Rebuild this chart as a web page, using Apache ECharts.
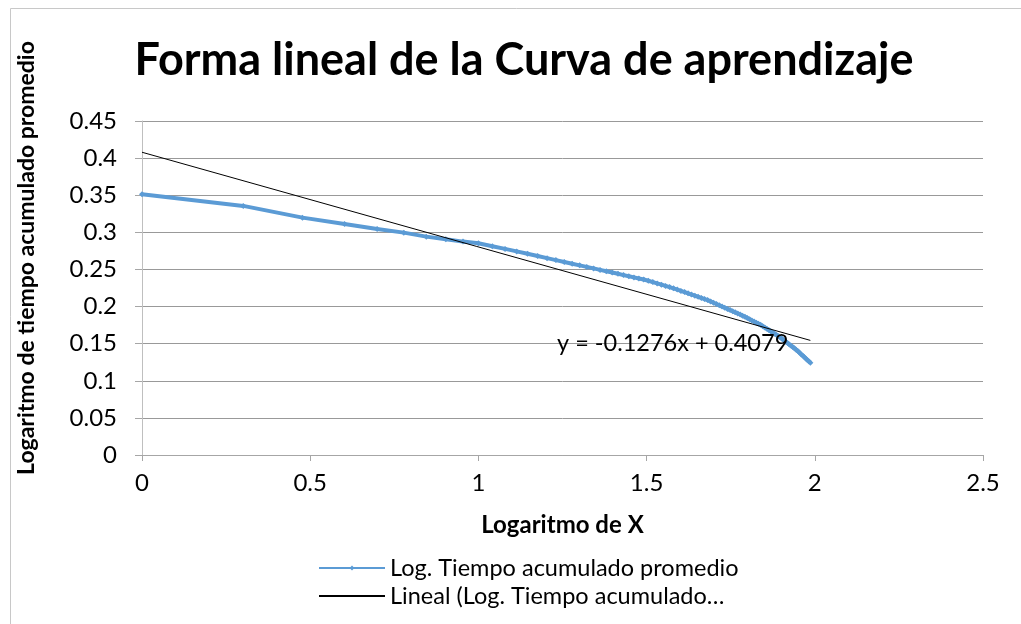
<!DOCTYPE html>
<html><head><meta charset="utf-8">
<script src="https://cdn.jsdelivr.net/npm/echarts@6.0.0/dist/echarts.min.js"></script>
<style>html,body{margin:0;padding:0;background:#fff}#c{width:1021px;height:624px}</style>
</head><body><div id="c"></div>
<script>
// Logaritmo de X (log10 of unit number 1..97)
const logX = [0, 0.301, 0.4771, 0.6021, 0.699, 0.7782, 0.8451, 0.9031, 0.9542, 1.0,
  1.0414, 1.0792, 1.1139, 1.1461, 1.1761, 1.2041, 1.2304, 1.2553, 1.2788, 1.301,
  1.3222, 1.3424, 1.3617, 1.3802, 1.3979, 1.415, 1.4314, 1.4472, 1.4624, 1.4771,
  1.4914, 1.5051, 1.5185, 1.5315, 1.5441, 1.5563, 1.5682, 1.5798, 1.5911, 1.6021,
  1.6128, 1.6232, 1.6335, 1.6435, 1.6532, 1.6628, 1.6721, 1.6812, 1.6902, 1.699,
  1.7076, 1.716, 1.7243, 1.7324, 1.7404, 1.7482, 1.7559, 1.7634, 1.7709, 1.7782,
  1.7853, 1.7924, 1.7993, 1.8062, 1.8129, 1.8195, 1.8261, 1.8325, 1.8388, 1.8451,
  1.8513, 1.8573, 1.8633, 1.8692, 1.8751, 1.8808, 1.8865, 1.8921, 1.8976, 1.9031,
  1.9085, 1.9138, 1.9191, 1.9243, 1.9294, 1.9345, 1.9395, 1.9445, 1.9494, 1.9542,
  1.959, 1.9638, 1.9685, 1.9731, 1.9777, 1.9823, 1.9868];
// Log. Tiempo acumulado promedio
const logT = [0.3513, 0.3356, 0.3198, 0.3113, 0.3046, 0.2996, 0.2942, 0.2907, 0.2875, 0.2853,
  0.2813, 0.2777, 0.2743, 0.2711, 0.2681, 0.2652, 0.2626, 0.2601, 0.2577, 0.2555,
  0.2534, 0.2514, 0.2494, 0.2476, 0.2458, 0.2441, 0.2424, 0.2408, 0.2393, 0.2378,
  0.2364, 0.2348, 0.2330, 0.2312, 0.2295, 0.2278, 0.2262, 0.2246, 0.2229, 0.2211,
  0.2195, 0.2178, 0.2162, 0.2146, 0.2131, 0.2116, 0.2101, 0.2087, 0.2069, 0.2051,
  0.2034, 0.2017, 0.2000, 0.1984, 0.1968, 0.1953, 0.1937, 0.1922, 0.1907, 0.1893,
  0.1877, 0.1861, 0.1845, 0.1829, 0.1813, 0.1798, 0.1783, 0.1768, 0.1754, 0.1736,
  0.1718, 0.1701, 0.1684, 0.1667, 0.1650, 0.1633, 0.1617, 0.1600, 0.1583, 0.1564,
  0.1545, 0.1527, 0.1508, 0.1490, 0.1472, 0.1454, 0.1437, 0.1419, 0.1400, 0.1380,
  0.1359, 0.1339, 0.1320, 0.1300, 0.1281, 0.1262, 0.1243];
// Linear trendline endpoints (y = -0.1276x + 0.4079)
const trendX = [0, 1.9868];
const trendY = [0.4079, 0.1544];
const seriesNames = ['Log. Tiempo acumulado promedio', 'Lineal (Log. Tiempo acumulado\u2026'];
const titleText = 'Forma lineal de la Curva de aprendizaje';
const xTitle = 'Logaritmo de X';
const yTitle = 'Logaritmo de tiempo acumulado promedio';
const equationText = 'y = -0.1276x + 0.4079';

const FONT = 'Lato, "Open Sans", sans-serif';
const chart = echarts.init(document.getElementById('c'));
chart.setOption({
  animation: false,
  backgroundColor: '#fff',
  title: {
    text: titleText, left: 519, top: 33, textAlign: 'center',
    textStyle: { fontFamily: FONT, fontWeight: 'bold', fontSize: 45, color: '#000' }
  },
  grid: { left: 142, right: 38, top: 121, bottom: 169 },
  xAxis: {
    type: 'value', min: 0, max: 2.5, interval: 0.5,
    name: xTitle, nameLocation: 'middle', nameGap: 58,
    nameTextStyle: { fontFamily: FONT, fontWeight: 'bold', fontSize: 24, color: '#000' },
    axisLine: { show: true, lineStyle: { color: '#a6a6a6', width: 1 } },
    axisTick: { show: true, length: 6, lineStyle: { color: '#a6a6a6' } },
    axisLabel: { fontFamily: FONT, fontSize: 24, color: '#000', margin: 16 },
    splitLine: { show: false }
  },
  yAxis: {
    type: 'value', min: 0, max: 0.45, interval: 0.05,
    axisLine: { show: true, lineStyle: { color: '#bfbfbf', width: 1 } },
    axisTick: { show: true, length: 7, lineStyle: { color: '#a6a6a6' } },
    axisLabel: { fontFamily: FONT, fontSize: 24, color: '#000', margin: 25 },
    splitLine: { show: true, lineStyle: { color: '#999', width: 1 } }
  },
  legend: {
    orient: 'vertical', left: 313, top: 551, itemGap: 4,
    itemWidth: 66, itemHeight: 6,
    textStyle: { fontFamily: FONT, fontSize: 23.5, color: '#000' },
    data: seriesNames
  },
  graphic: [
    { type: 'rect', shape: { x: 10.5, y: 8.5, width: 1030, height: 640 }, style: { fill: 'none', stroke: '#c8c8c8', lineWidth: 1 }, silent: true },
    { type: 'text', left: 557, top: 331, style: { text: equationText, font: '23.5px ' + FONT, fill: '#000' }, z: 10 },
    { type: 'text', x: 27, y: 258, rotation: Math.PI / 2,
      style: { text: yTitle, font: 'bold 23px ' + FONT, fill: '#000', textAlign: 'center', textVerticalAlign: 'middle' } }
  ],
  series: [
    {
      name: seriesNames[0], type: 'line',
      data: logX.map((x, i) => [x, logT[i]]),
      symbol: 'diamond', symbolSize: 6, showSymbol: true,
      itemStyle: { color: '#5b9bd5' },
      lineStyle: { color: '#5b9bd5', width: 4 },
      z: 2
    },
    {
      name: seriesNames[1], type: 'line',
      data: trendX.map((x, i) => [x, trendY[i]]),
      symbol: 'none', showSymbol: false,
      itemStyle: { color: 'rgba(0,0,0,0)' },
      lineStyle: { color: '#000', width: 1 },
      z: 3
    }
  ]
});
</script></body></html>
